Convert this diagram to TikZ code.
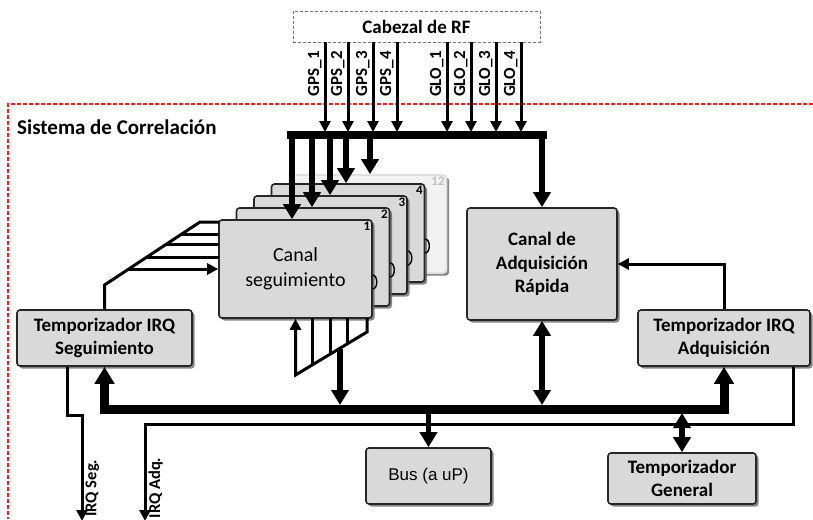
\documentclass[tikz,border=0pt]{standalone}
\usepackage{fontspec}
\setmainfont{Carlito}
\newfontfamily\arialfont{Liberation Sans}
\usetikzlibrary{arrows.meta,shadows}

\begin{document}
\begin{tikzpicture}[x=1pt,y=-1pt,
	box/.style={draw=black!85,line width=1.6pt,fill=black!15,rounded corners=3pt,
		drop shadow={shadow xshift=2.5pt,shadow yshift=-2.5pt,fill=black!60,opacity=.8},
		align=center,font=\fontsize{19}{23.5}\selectfont\bfseries},
	chan/.style={box,minimum width=153pt,minimum height=98pt,font=\fontsize{20}{25}\selectfont},
	num/.style={font=\fontsize{13}{13}\selectfont\bfseries,inner sep=2.5pt},
	sig/.style={line width=3pt,-{Triangle[width=11pt,length=11pt]}},
	thk/.style={line width=5.5pt,-{Triangle[width=17pt,length=15pt]}},
	lbl/.style={rotate=90,inner sep=2pt,font=\fontsize{17}{17}\selectfont\bfseries}]
	\useasboundingbox (0,0) rectangle (813,519);
	% frame of the correlation system
	\draw[red!90,line width=1.2pt,dash pattern=on 4pt off 2pt] (813,104) -- (8,104) -- (8,519);
	\node[anchor=west,inner sep=0pt,font=\fontsize{21}{21}\selectfont\bfseries] (title) at (17,127) {Sistema de Correlación};
	% RF head
	\node[draw=black!55,line width=.8pt,dash pattern=on 3pt off 2pt,minimum width=247pt,minimum height=31pt,
		font=\fontsize{19}{19}\selectfont\bfseries] (rf) at (416.5,26.5) {Cabezal de RF};
	\foreach \x/\n in {325/GPS\_1,348/GPS\_2,373/GPS\_3,397/GPS\_4,447/GLO\_1,471/GLO\_2,496/GLO\_3,521/GLO\_4}
		\draw[sig] (\x,0 |- rf.south) -- (\x,132) node[lbl,pos=.35,anchor=south] {\n};
	\draw[line width=7.5pt] (287,135) -- (547,135);
	% tracking channels
	\node[chan,drop shadow={opacity=0},fill=black!5,draw=black!12] (ch12) at (370,224) {};
	\node[num,anchor=north east,text=black!25] at (ch12.north east) {12};
	\node[chan] (ch4) at (348,233) {};
	\node[num,anchor=north east] at (ch4.north east) {4};
	\draw[line width=1.4pt] (ch4.east) ++(0,6) arc[start angle=-90,end angle=90,x radius=4,y radius=7];
	\node[chan] (ch3) at (330.5,245) {};
	\node[num,anchor=north east] at (ch3.north east) {3};
	\draw[line width=1.4pt] (ch3.east) ++(0,6) arc[start angle=-90,end angle=90,x radius=4,y radius=7];
	\node[chan] (ch2) at (313,257) {};
	\node[num,anchor=north east] at (ch2.north east) {2};
	\draw[line width=1.4pt] (ch2.east) ++(0,6) arc[start angle=-90,end angle=90,x radius=4,y radius=7];
	\node[chan] (seg) at (295.5,269) {Canal\\seguimiento};
	\node[num,anchor=north east] at (seg.north east) {1};
	\draw[line width=1.4pt] (seg.east) ++(0,6) arc[start angle=-90,end angle=90,x radius=4,y radius=7];
	\foreach \x/\c in {292/seg,312/ch2,330/ch3,346/ch4,370/ch12}
		\draw[thk] (\x,135) -- (\x,0 |- \c.north);
	% other blocks
	\node[box,minimum width=150pt,minimum height=112pt] (adq) at (542,264) {Canal de\\Adquisición\\Rápida};
	\draw[thk] (adq.north |- 0,135) -- (adq.north);
	\node[box,minimum width=175pt,minimum height=56pt] (tseg) at (104.5,338) {Temporizador IRQ\\Seguimiento};
	\node[box,minimum width=172pt,minimum height=56pt] (tadq) at (724,338) {Temporizador IRQ\\Adquisición};
	\node[box,minimum width=125pt,minimum height=56pt,font=\arialfont\fontsize{17}{20}\selectfont] (bus) at (428.5,476) {Bus (a uP)};
	\draw[thk,{Triangle[width=17pt,length=15pt]}-{Triangle[width=17pt,length=15pt]}] (adq.south) -- (542,405);
	\node[box,minimum width=148pt,minimum height=51pt] (tgen) at (682,478.5) {Temporizador\\General};
	% fan into channel 1
	\draw[line width=3pt] (tseg.north) -- (104.5,285) -- (200,222) -- (219,222);
	\foreach \y/\x in {234/181.5,244/166,257/146}
		\draw[line width=3pt] (\x,\y) -- (219,\y);
	\draw[sig] (127.6,269) -- (seg.west |- 0,269);
	% fan out of channel 1
	\draw[line width=3pt,{Triangle[width=11pt,length=11pt]}-] (seg.south) -- (295.5,375) -- (367,332) -- (367,318);
	\foreach \x/\y in {312/365,330/354.3,347/344}
		\draw[line width=3pt] (\x,318) -- (\x,\y);
	\draw[thk] (340,348.5) -- (340,405);
	% interrupt lines
	\draw[sig] (793,0 |- tadq.south) -- (793,424) -- (145,424) -- (145,521)
		node[lbl,pos=.66,anchor=north,font=\fontsize{16.5}{16.5}\selectfont\bfseries] {IRQ Adq.};
	\draw[sig] (67,0 |- tseg.south) -- (67,415) -- (82,415) -- (82,521)
		node[lbl,pos=.69,anchor=north,font=\fontsize{16.5}{16.5}\selectfont\bfseries] {IRQ Seg.};
	% main bus
	\draw[line width=9pt,{Triangle[width=19pt,length=17pt]}-{Triangle[width=19pt,length=17pt]}]
		(tseg.south) -- (tseg.south |- 0,409) -- (tadq.south |- 0,409) -- (tadq.south);
	\draw[thk] (bus.north |- 0,413) -- (bus.north);
	\draw[thk,{Triangle[width=17pt,length=15pt]}-{Triangle[width=17pt,length=15pt]}] (tgen.north |- 0,413) -- (tgen.north);
	\draw[sig] (tadq.north) -- (724,264) -- (adq.east);
\end{tikzpicture}
\end{document}
